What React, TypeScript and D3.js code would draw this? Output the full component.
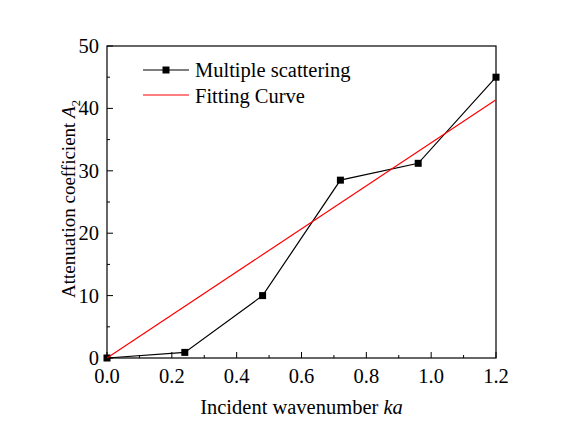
import React from "react";
import * as d3 from "d3";

const kaValues = [0, 0.24, 0.48, 0.72, 0.96, 1.2];
const attenuation = [0, 0.9, 10, 28.5, 31.2, 45];
const fitSlope = 34.5;
const xTicks = [0, 0.2, 0.4, 0.6, 0.8, 1.0, 1.2];
const yTicks = [0, 10, 20, 30, 40, 50];

export default function App() {
  const W = 561, H = 426;
  const left = 107, right = 496, top = 46, bottom = 358;
  const x = d3.scaleLinear().domain([0, 1.2]).range([left, right]);
  const y = d3.scaleLinear().domain([0, 50]).range([bottom, top]);
  const pts: [number, number][] = kaValues.map((k, i) => [k, attenuation[i]]);
  const line = d3.line<[number, number]>().x(d => x(d[0])).y(d => y(d[1]));
  const fitPts: [number, number][] = [[0, 0], [1.2, 1.2 * fitSlope]];
  const xMinor = d3.range(0.1, 1.2, 0.2);
  const yMinor = d3.range(5, 50, 10);
  const font = "'Liberation Serif', 'Times New Roman', serif";
  const fs = 20.5;
  const ms = 7;
  return (
    <svg width={W} height={H} style={{ position: "absolute", left: 0, top: 0, background: "#fff" }} fontFamily={font}>
      <rect x={left} y={top} width={right - left} height={bottom - top} fill="none" stroke="#000" strokeWidth={1.2} />
      {xTicks.map(t => (
        <g key={"x" + t}>
          <line x1={x(t)} x2={x(t)} y1={bottom} y2={bottom - 6} stroke="#000" />
          <text x={x(t)} y={383} fontSize={fs} textAnchor="middle">{t.toFixed(1)}</text>
        </g>
      ))}
      {xMinor.map(t => (
        <line key={"xm" + t} x1={x(t)} x2={x(t)} y1={bottom} y2={bottom - 3} stroke="#000" />
      ))}
      {yTicks.map(t => (
        <g key={"y" + t}>
          <line x1={left} x2={left + 6} y1={y(t)} y2={y(t)} stroke="#000" />
          <text x={left - 8} y={y(t) + 7} fontSize={fs} textAnchor="end">{t}</text>
        </g>
      ))}
      {yMinor.map(t => (
        <line key={"ym" + t} x1={left} x2={left + 3} y1={y(t)} y2={y(t)} stroke="#000" />
      ))}
      <path d={line(pts) || ""} fill="none" stroke="#000" strokeWidth={1.2} />
      {pts.map((p, i) => (
        <rect key={i} x={x(p[0]) - ms / 2} y={y(p[1]) - ms / 2} width={ms} height={ms} fill="#000" />
      ))}
      <path d={line(fitPts) || ""} fill="none" stroke="#ff0000" strokeWidth={1.2} />
      <text x={(left + right) / 2} y={414} fontSize={fs} textAnchor="middle">
        Incident wavenumber <tspan fontStyle="italic">ka</tspan>
      </text>
      <text transform={`translate(75, 199) rotate(-90)`} fontSize={19} textAnchor="middle">
        Attenuation coefficient <tspan fontStyle="italic">A</tspan><tspan fontSize={12.5} dy={5}>2</tspan>
      </text>
      <line x1={143} x2={189} y1={70} y2={70} stroke="#000" strokeWidth={1.2} />
      <rect x={166 - ms / 2} y={70 - ms / 2} width={ms} height={ms} fill="#000" />
      <text x={195} y={77} fontSize={fs}>Multiple scattering</text>
      <line x1={143} x2={189} y1={95} y2={95} stroke="#ff0000" strokeWidth={1.2} />
      <text x={195} y={103} fontSize={fs}>Fitting Curve</text>
    </svg>
  );
}
